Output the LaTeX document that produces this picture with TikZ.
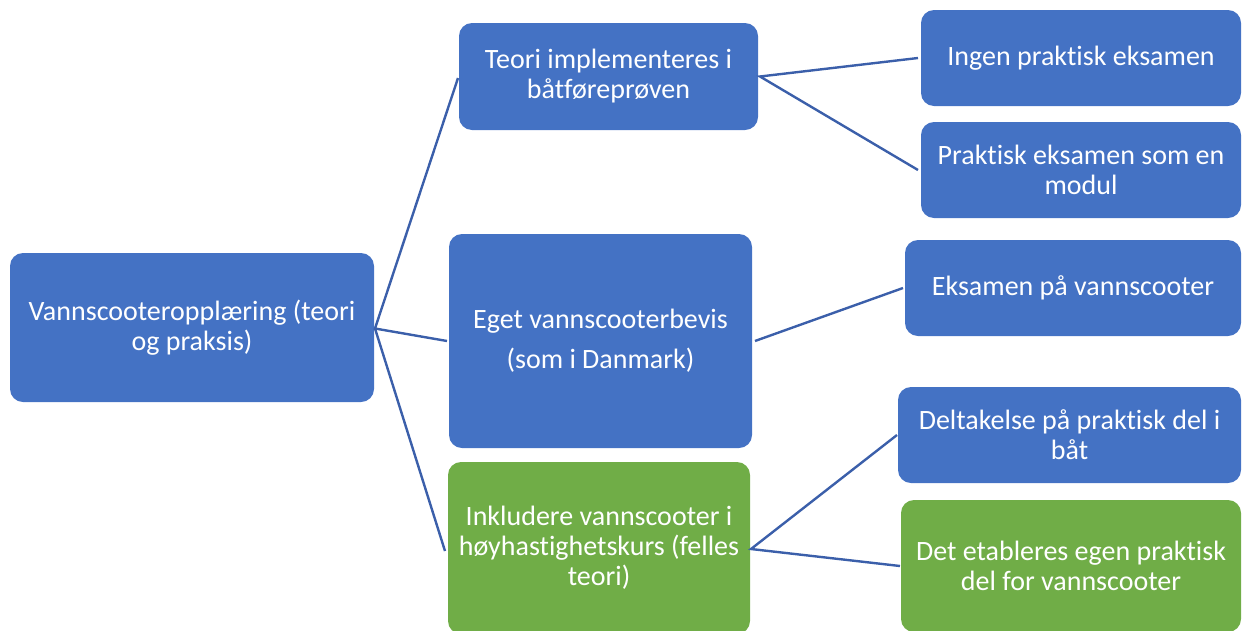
\documentclass[tikz,border=0pt]{standalone}
\usepackage{fontspec}
\setmainfont{Carlito}[Ligatures={NoCommon}]
\definecolor{boxblue}{RGB}{68,114,196}
\definecolor{boxgreen}{RGB}{112,173,71}
\definecolor{linkblue}{RGB}{59,95,170}
\tikzset{
  box/.style={rectangle, rounded corners=13pt, fill=boxblue, text=white, align=center,
    inner sep=0pt, outer sep=0pt, font=\fontsize{28}{30}\selectfont},
  gbox/.style={box, fill=boxgreen},
  link/.style={draw=linkblue, line width=2.4pt}
}
\begin{document}
\begin{tikzpicture}[x=1pt,y=-1pt]
\useasboundingbox (0,0) rectangle (1242,630);
\begin{scope}
\clip (0,0) rectangle (1242,630);
\node[box, minimum width=364pt, minimum height=149pt] (root) at (192,327.5) {Vannscooteropplæring (teori\\og praksis)};
\node[box, minimum width=299pt, minimum height=107pt] (teori) at (608.5,76.5) {Teori implementeres i\\båtføreprøven};
\node[box, minimum width=303pt, minimum height=214pt, font=\fontsize{28}{40}\selectfont] (eget) at (600.5,341) {Eget vannscooterbevis\\(som i Danmark)};
\node[gbox, minimum width=302pt, minimum height=172pt] (inkl) at (599,548) {Inkludere vannscooter i\\høyhastighetskurs (felles\\teori)};
\node[box, minimum width=320pt, minimum height=96pt] (ingen) at (1081,58) {Ingen praktisk eksamen};
\node[box, minimum width=320pt, minimum height=96pt] (prak) at (1081,170) {Praktisk eksamen som en\\modul};
\node[box, minimum width=336pt, minimum height=96pt] (eks) at (1073,288) {Eksamen på vannscooter};
\node[box, minimum width=343pt, minimum height=96pt] (delt) at (1069.5,435) {Deltakelse på praktisk del i\\båt};
\node[gbox, minimum width=340pt, minimum height=132pt] (det) at (1071,566) {Det etableres egen praktisk\\del for vannscooter};
\end{scope}
\coordinate (rootR) at ([xshift=1pt,yshift=-1pt]root.east);
\coordinate (teoriL) at ([xshift=-1pt,yshift=-1.5pt]teori.west);
\coordinate (egetL) at ([xshift=-2pt]eget.west);
\coordinate (inklL) at ([xshift=-3pt,yshift=-3pt]inkl.west);
\coordinate (teoriR) at ([xshift=2pt]teori.east);
\coordinate (ingenL) at ([xshift=-3pt]ingen.west);
\coordinate (prakL) at ([xshift=-3pt]prak.west);
\coordinate (egetR) at ([xshift=3pt]eget.east);
\coordinate (eksL) at ([xshift=-2pt]eks.west);
\coordinate (inklR) at ([xshift=1pt,yshift=-1pt]inkl.east);
\coordinate (deltL) at ([xshift=-1pt]delt.west);
\coordinate (detL) at ([xshift=-1pt]det.west);
\draw[link] (teoriL) -- (rootR) -- (egetL);
\draw[link] (rootR) -- (inklL);
\draw[link] (ingenL) -- (teoriR) -- (prakL);
\draw[link] (egetR) -- (eksL);
\draw[link] (deltL) -- (inklR) -- (detL);
\end{tikzpicture}
\end{document}
